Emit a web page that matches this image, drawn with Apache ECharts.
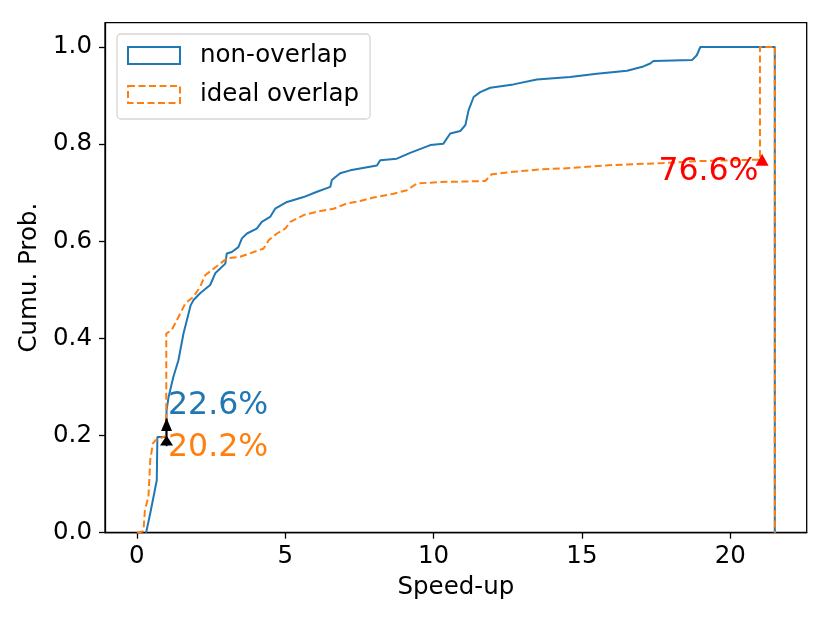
<!DOCTYPE html>
<html>
<head>
<meta charset="utf-8">
<script src="https://cdn.jsdelivr.net/npm/echarts@6/dist/echarts.min.js"></script>
<style>
  html, body { margin: 0; padding: 0; background: #fff; }
  #main { width: 830px; height: 622px; }
</style>
</head>
<body>
<div id="main"></div>
<script>
// cumulative step curves
const nonOverlapX = [0.31, 0.45, 0.56, 0.67, 0.69, 0.99, 1.0, 1.07, 1.23, 1.40, 1.57, 1.74, 1.81, 1.91, 2.13, 2.47, 2.64, 2.98, 3.03, 3.20, 3.42, 3.54, 3.71, 4.04, 4.21, 4.49, 4.66, 5.06, 5.62, 6.07, 6.52, 6.57, 6.85, 7.19, 8.09, 8.20, 8.76, 9.21, 9.89, 10.33, 10.56, 10.90, 11.07, 11.18, 11.35, 11.57, 11.91, 12.69, 13.48, 14.60, 15.50, 16.52, 17.07, 17.30, 17.41, 18.71, 18.87, 18.99, 21.5, 21.5];
const nonOverlapY = [0, 0.04, 0.074, 0.108, 0.197, 0.197, 0.252, 0.28, 0.321, 0.355, 0.41, 0.451, 0.468, 0.479, 0.493, 0.51, 0.534, 0.554, 0.575, 0.578, 0.588, 0.606, 0.616, 0.626, 0.64, 0.65, 0.667, 0.681, 0.691, 0.702, 0.712, 0.726, 0.74, 0.746, 0.756, 0.767, 0.77, 0.782, 0.798, 0.801, 0.822, 0.827, 0.839, 0.87, 0.897, 0.907, 0.916, 0.923, 0.933, 0.938, 0.945, 0.951, 0.96, 0.966, 0.971, 0.973, 0.983, 1.0, 1.0, 0];

const idealX = [0, 0.22, 0.27, 0.39, 0.45, 0.54, 0.62, 0.99, 0.99, 1.17, 1.46, 1.63, 1.91, 2.13, 2.30, 2.53, 2.81, 3.03, 3.48, 4.27, 4.44, 4.72, 5.0, 5.17, 5.62, 6.07, 6.63, 7.08, 7.53, 7.97, 8.65, 9.10, 9.44, 10.22, 11.74, 11.96, 12.69, 13.59, 14.38, 16.06, 17.75, 18.87, 21.0, 21.0, 21.5, 21.5];
const idealY = [0, 0.003, 0.047, 0.074, 0.15, 0.184, 0.19, 0.2, 0.41, 0.417, 0.451, 0.472, 0.486, 0.506, 0.53, 0.541, 0.554, 0.565, 0.568, 0.585, 0.602, 0.616, 0.626, 0.64, 0.654, 0.661, 0.667, 0.678, 0.683, 0.69, 0.698, 0.705, 0.719, 0.722, 0.724, 0.738, 0.743, 0.748, 0.75, 0.757, 0.761, 0.765, 0.768, 1.0, 1.0, 0];

const xTicks = [0, 5, 10, 15, 20];
const yTicks = [0, 0.2, 0.4, 0.6, 0.8, 1.0];

// annotations
const blueNote = { text: '22.6%', at: [1.05, 0.262] };
const orangeNote = { text: '20.2%', at: [1.05, 0.174] };
const redNote = { text: '76.6%', at: [20.95, 0.742] };
const arrowShaft = [[1.0, 0.178], [1.0, 0.235]];
const arrowHeads = [[1.0, 0.223], [1.0, 0.19]];
const redMarker = [21.07, 0.768];

const zip = (xs, ys) => xs.map((x, i) => [x, ys[i]]);

const font = 'DejaVu Sans';
const chart = echarts.init(document.querySelector('#main'));

function noteSeries(note, color, side) {
    return {
        type: 'scatter',
        symbolSize: 0,
        silent: true,
        z: 5,
        itemStyle: { opacity: 1 },
        data: [note.at],
        label: {
            show: true,
            position: side,
            distance: 0,
            formatter: note.text,
            color: color,
            opacity: 1,
            fontSize: 31.5,
            fontFamily: font,
        },
    };
}

const option = {
    animation: false,
    grid: {
        left: 105,
        right: 23.3,
        top: 22.7,
        bottom: 89.3,
        show: true,
        borderColor: '#000',
        borderWidth: 1.3,
    },
    legend: {
        left: 117,
        top: 34,
        orient: 'vertical',
        itemWidth: 52,
        itemHeight: 17,
        itemGap: 14,
        padding: [9, 11, 12, 10],
        backgroundColor: 'rgba(255,255,255,0.8)',
        borderColor: 'rgba(204,204,204,0.8)',
        borderWidth: 1.3,
        borderRadius: 4,
        textStyle: {
            fontFamily: font,
            fontSize: 24.5,
            color: '#000',
            padding: [0, 0, 0, 15],
        },
        data: [
            { name: 'non-overlap', icon: 'emptyRect' },
            { name: 'ideal overlap', icon: 'emptyRect', itemStyle: { borderType: [7, 3.5] } },
        ],
    },
    xAxis: {
        type: 'value',
        min: -1.075,
        max: 22.575,
        name: 'Speed-up',
        nameLocation: 'middle',
        nameGap: 42,
        nameTextStyle: { fontFamily: font, fontSize: 24.5, color: '#000' },
        splitLine: { show: false },
        axisLine: { onZero: false, lineStyle: { color: '#000', width: 1.3 } },
        axisTick: { customValues: xTicks, length: 6, lineStyle: { color: '#000', width: 1.3 } },
        axisLabel: {
            customValues: xTicks,
            margin: 11,
            fontFamily: font,
            fontSize: 24.5,
            color: '#000',
        },
    },
    yAxis: {
        type: 'value',
        min: 0,
        max: 1.05,
        name: 'Cumu. Prob.',
        nameLocation: 'middle',
        nameRotate: 90,
        nameGap: 57,
        nameTextStyle: { fontFamily: font, fontSize: 24.5, color: '#000' },
        splitLine: { show: false },
        axisLine: { show: true, onZero: false, lineStyle: { color: '#000', width: 1.3 } },
        axisTick: { show: true, customValues: yTicks, length: 6, lineStyle: { color: '#000', width: 1.3 } },
        axisLabel: {
            customValues: yTicks,
            margin: 13,
            fontFamily: font,
            fontSize: 24.5,
            color: '#000',
            formatter: (v) => v.toFixed(1),
        },
    },
    series: [
        {
            name: 'non-overlap',
            type: 'line',
            symbol: 'none',
            color: '#1f77b4',
            lineStyle: { width: 2, color: '#1f77b4' },
            data: zip(nonOverlapX, nonOverlapY),
            z: 2,
        },
        {
            name: 'ideal overlap',
            type: 'line',
            symbol: 'none',
            color: '#ff7f0e',
            lineStyle: { width: 2, color: '#ff7f0e', type: [7, 3.5] },
            data: zip(idealX, idealY),
            z: 3,
        },
        {
            type: 'line',
            symbol: 'none',
            silent: true,
            lineStyle: { width: 1.8, color: '#000' },
            data: arrowShaft,
            z: 4,
        },
        {
            type: 'scatter',
            symbol: 'triangle',
            silent: true,
            itemStyle: { color: '#000', opacity: 1 },
            data: [
                { value: arrowHeads[0], symbolSize: [11, 13] },
                { value: arrowHeads[1], symbolSize: [13, 10] },
            ],
            z: 4,
        },
        {
            type: 'scatter',
            symbol: 'triangle',
            symbolSize: [13, 12],
            silent: true,
            itemStyle: { color: '#ff0000', opacity: 1 },
            data: [redMarker],
            z: 4,
        },
        noteSeries(blueNote, '#1f77b4', 'right'),
        noteSeries(orangeNote, '#ff7f0e', 'right'),
        noteSeries(redNote, '#ff0000', 'left'),
    ],
};

chart.setOption(option);
</script>
</body>
</html>
